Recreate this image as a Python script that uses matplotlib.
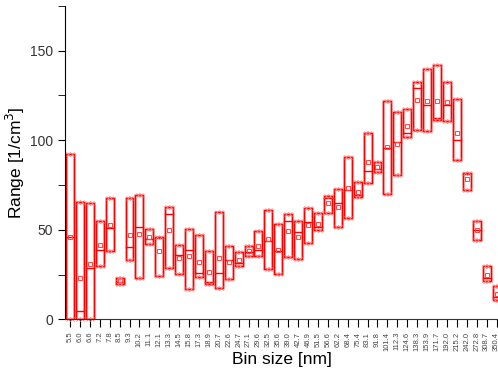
import matplotlib
matplotlib.use('Agg')
import numpy as np
import matplotlib.pyplot as plt
from matplotlib.patches import Rectangle

plt.rcParams['font.family'] = ['Liberation Sans', 'DejaVu Sans']

bins = ['5.5', '6.0', '6.6', '7.2', '7.8', '8.5', '9.3', '10.2', '11.1', '12.1',
        '13.3', '14.5', '15.8', '17.3', '18.9', '20.7', '22.6', '24.7', '27.1', '29.6',
        '32.5', '35.6', '39.0', '42.7', '46.9', '51.5', '56.6', '62.2', '68.4', '75.4',
        '83.1', '91.8', '101.4', '112.3', '124.6', '138.3', '153.9', '171.7', '192.0', '215.2',
        '242.0', '272.8', '308.7', '350.4']

low = [0, 0, 0, 30.0, 38.3, 19.7, 33.1, 22.9, 42.2, 24.0,
       28.8, 25.5, 17.1, 23.8, 19.7, 17.3, 22.3, 29.8, 35.2, 35.4,
       28.3, 25.3, 34.6, 33.7, 42.4, 49.9, 59.4, 51.4, 56.6, 68.5,
       76.0, 82.3, 69.8, 80.6, 101.5, 105.4, 105.2, 111.0, 110.8, 89.0,
       72.2, 44.3, 21.6, 10.8]
high = [92.5, 65.7, 65.1, 55.1, 67.9, 23.2, 67.9, 69.1, 50.3, 45.8,
        62.6, 41.3, 50.4, 47.3, 38.3, 59.8, 40.8, 37.4, 41.1, 49.3,
        60.9, 53.1, 58.7, 54.9, 62.0, 59.2, 68.9, 72.6, 90.5, 76.7,
        103.7, 87.9, 122.0, 115.6, 117.1, 132.2, 139.7, 141.9, 132.4, 122.9,
        81.6, 55.1, 29.8, 18.8]
median = [46.2, 4.6, 28.7, 38.5, 50.8, 21.0, 40.2, 51.6, 44.7, 45.5,
          58.8, 35.8, 38.5, 26.0, 21.0, 25.7, 33.0, 31.6, 37.4, 38.7,
          43.9, 38.0, 55.1, 48.6, 54.2, 51.7, 67.9, 64.8, 72.1, 69.1,
          83.0, 84.0, 95.5, 98.7, 103.9, 129.1, 119.6, 112.1, 119.7, 99.8,
          81.0, 49.7, 23.1, 12.7]
mean = [46.2, 23.3, 31.1, 41.5, 52.7, 21.7, 47.1, 47.8, 46.0, 38.3,
        49.9, 34.2, 35.4, 32.2, 26.4, 34.1, 32.0, 33.1, 38.3, 40.9,
        44.7, 38.7, 49.3, 45.8, 52.9, 53.4, 65.1, 62.9, 73.0, 71.3,
        87.7, 84.9, 96.0, 97.9, 107.6, 122.3, 121.6, 121.8, 121.0, 103.7,
        78.2, 50.1, 24.6, 14.0]

fig = plt.figure(figsize=(4.98, 3.77), dpi=100)
ax = fig.add_axes([65 / 498, 1 - 319.3 / 377, 1 - 65 / 498, (319.3 - 5.7) / 377])

w = 0.8
x = np.arange(len(bins))
for i in range(len(bins)):
    # soft halo + crisp edge, like the original's doubled outline
    ax.add_patch(Rectangle((x[i] - w / 2, low[i]), w, high[i] - low[i],
                           fill=False, edgecolor='#ff6666', lw=2.2, alpha=0.45))
    ax.add_patch(Rectangle((x[i] - w / 2, low[i]), w, high[i] - low[i],
                           fill=False, edgecolor='red', lw=1.0))
    ax.plot([x[i] - w / 2, x[i] + w / 2], [median[i], median[i]], color='red', lw=1.0)

ax.plot(x, mean, 's', ms=3, mfc='none', mec='#ff4444', mew=0.7, ls='none')
ax.plot(x - 0.18, high, 'x', ms=2.5, color='#ff7777', mew=0.6, ls='none')
ax.plot(x + 0.18, high, 'x', ms=2.5, color='#ff7777', mew=0.6, ls='none')
ax.plot(x - 0.18, low, 'x', ms=2.5, color='#ff7777', mew=0.6, ls='none', clip_on=False)
ax.plot(x + 0.18, low, 'x', ms=2.5, color='#ff7777', mew=0.6, ls='none', clip_on=False)

ax.set_xlim(-0.504, 43.15)
ax.set_ylim(0, 175)
ax.set_xticks(x)
ax.set_xticklabels(bins, rotation=90, fontsize=5.5, color='#444444')
ax.set_yticks([0, 50, 100, 150])
ax.set_yticks([25, 75, 125, 175], minor=True)
ax.tick_params(axis='y', labelsize=10, labelcolor='#333333', length=5, direction='out')
ax.tick_params(axis='y', which='minor', length=5)
ax.tick_params(axis='x', length=6, width=0.8, pad=3)

ax.spines['top'].set_visible(False)
ax.spines['right'].set_visible(False)
ax.spines['bottom'].set_color('#333333')

ax.set_xlabel('Bin size [nm]', fontsize=12.5)
ax.set_ylabel('Range [1/cm$^3$]', fontsize=12.5)
ax.xaxis.set_label_coords(0.5, -0.105)
ax.yaxis.set_label_coords(-0.088, 0.5)

plt.savefig('out.png', dpi=100)
plt.close()
